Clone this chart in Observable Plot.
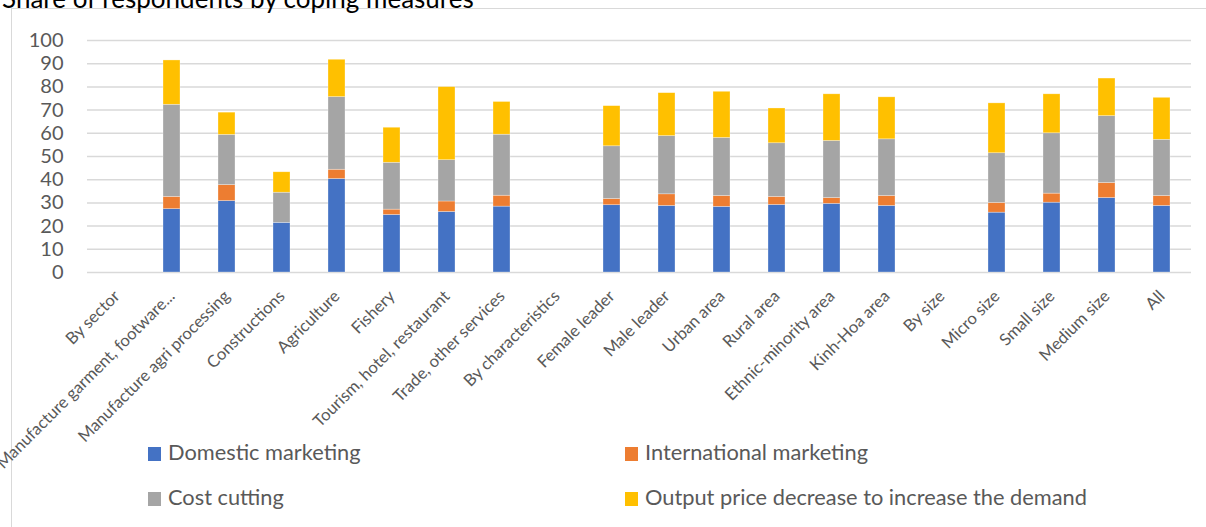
<!DOCTYPE html>
<html>
<head>
<meta charset="utf-8">
<script src="https://cdn.jsdelivr.net/npm/d3@7"></script>
<script src="https://cdn.jsdelivr.net/npm/@observablehq/plot@0.6"></script>
<style>
  html, body { margin: 0; padding: 0; background: #fff; overflow: hidden; width: 1206px; height: 527px; }
  body { position: relative; font-family: Lato, "Open Sans", sans-serif; }
  #frame { position: absolute; left: 11px; top: 8px; width: 1300px; height: 600px; border: 1.5px solid #d9d9d9; box-sizing: border-box; }
  #title { position: absolute; left: 2px; top: -18px; font-size: 26px; color: #000; white-space: nowrap; font-family: Lato, sans-serif; }
  #chart { position: absolute; left: 0; top: 0; }
  .leg { position: absolute; font-size: 21.8px; color: #595959; white-space: nowrap; line-height: 22px; }
  .leg span.sw { display: inline-block; width: 13px; height: 14px; margin-right: 7px; vertical-align: -1px; }
</style>
</head>
<body>
<div id="frame"></div>
<div id="title">Share of respondents by coping measures</div>
<div id="chart"></div>
<script>
const categories = [
  "By sector", "Manufacture garment, footware...", "Manufacture agri processing", "Constructions",
  "Agriculture", "Fishery", "Tourism, hotel, restaurant", "Trade, other services",
  "By characteristics", "Female leader", "Male leader", "Urban area", "Rural area",
  "Ethnic-minority area", "Kinh-Hoa area", "By size", "Micro size", "Small size", "Medium size", "All"
];
const seriesNames = ["Domestic marketing", "International marketing", "Cost cutting", "Output price decrease to increase the demand"];
const colors = ["#4472C4", "#ED7D31", "#A5A5A5", "#FFC000"];

const domestic      = [null, 27.3, 30.8, 21.4, 40.3, 24.8, 26.1, 28.4, null, 29.0, 28.7, 28.3, 29.1, 29.6, 28.7, null, 25.8, 30.1, 32.1, 28.7];
const international = [null,  5.3,  6.9,  0.0,  4.0,  2.3,  4.5,  4.7, null,  2.7,  5.0,  4.7,  3.5,  2.5,  4.3, null,  4.2,  3.9,  6.5,  4.3];
const costCutting   = [null, 39.7, 21.6, 13.0, 31.3, 20.2, 17.8, 26.3, null, 22.7, 25.1, 25.0, 23.1, 24.6, 24.4, null, 21.4, 26.0, 28.8, 24.2];
const outputPrice   = [null, 19.1,  9.6,  8.8, 16.1, 15.1, 31.5, 14.1, null, 17.3, 18.5, 19.9, 15.0, 20.1, 18.1, null, 21.5, 16.8, 16.2, 18.1];
const yTicks = [0, 10, 20, 30, 40, 50, 60, 70, 80, 90, 100];

const seriesValues = [domestic, international, costCutting, outputPrice];
const rows = [];
categories.forEach((c, i) => {
  seriesValues.forEach((vals, s) => {
    if (vals[i] != null) rows.push({category: c, series: seriesNames[s], value: vals[i]});
  });
});

const chart = Plot.plot({
  width: 1206,
  height: 435,
  marginLeft: 87,
  marginRight: 15,
  marginTop: 40,
  marginBottom: 163,
  style: {fontFamily: "Lato, 'Open Sans', sans-serif", background: "transparent", overflow: "visible"},
  x: {domain: categories, paddingInner: 0.69, paddingOuter: 0.345, label: null},
  y: {domain: [0, 100], label: null},
  color: {domain: seriesNames, range: colors},
  marks: [
    Plot.gridY(yTicks, {stroke: "#d9d9d9", strokeOpacity: 1, strokeWidth: 1.5}),
    Plot.barY(rows, Plot.stackY({order: null}, {x: "category", y: "value", fill: "series", stroke: "#ffffff", strokeWidth: 0.6, strokeOpacity: 0.5})),
    Plot.axisY(yTicks, {tickSize: 0, tickPadding: 24, fontSize: 20, fill: "#595959", label: null}),
    Plot.axisX({tickSize: 0, tickPadding: 21, tickRotate: -45, fontSize: 16.6, fill: "#595959", label: null})
  ]
});
document.getElementById("chart").appendChild(chart);

const legendPos = [
  {left: 148, top: 441}, {left: 625, top: 441},
  {left: 148, top: 486}, {left: 625, top: 486}
];
seriesNames.forEach((name, i) => {
  const d = document.createElement("div");
  d.className = "leg";
  d.style.left = legendPos[i].left + "px";
  d.style.top = legendPos[i].top + "px";
  d.innerHTML = `<span class="sw" style="background:${colors[i]}"></span>${name}`;
  document.body.appendChild(d);
});
</script>
</body>
</html>
